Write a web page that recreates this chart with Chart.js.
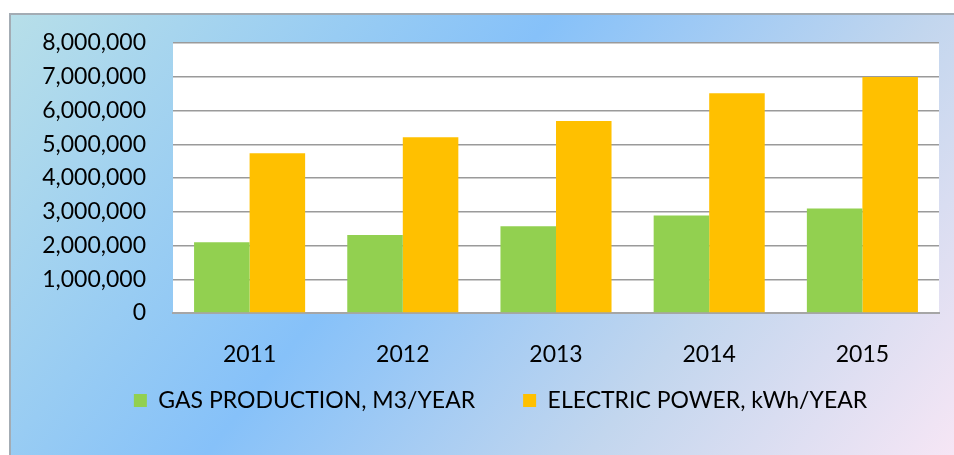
<!DOCTYPE html>
<html>
<head>
<meta charset="utf-8">
<script src="https://cdn.jsdelivr.net/npm/chart.js@4"></script>
<style>
  html, body { margin: 0; padding: 0; background: #fff; }
  #wrap { position: relative; width: 954px; height: 455px; }
</style>
</head>
<body>
<div id="wrap"><canvas id="chart" width="954" height="455"></canvas></div>
<script>
// data
const years = ['2011', '2012', '2013', '2014', '2015'];
const gasProduction = [2100000, 2310000, 2570000, 2890000, 3100000];
const electricPower = [4730000, 5210000, 5690000, 6510000, 6990000];
const yTicks = [0, 1000000, 2000000, 3000000, 4000000, 5000000, 6000000, 7000000, 8000000];

const FONT = 'Lato, "Open Sans", sans-serif';

// page background: gradient panel with a grey frame on left and top, white plot area
const backdrop = {
  id: 'backdrop',
  beforeDraw(chart) {
    const { ctx, chartArea: a } = chart;
    ctx.save();
    const g = ctx.createLinearGradient(0, 0, 809, 639);
    g.addColorStop(0, '#b9e0e8');
    g.addColorStop(0.43, '#86c1f9');
    g.addColorStop(0.72, '#c2d6ee');
    g.addColorStop(1, '#f6e6f5');
    ctx.fillStyle = g;
    ctx.fillRect(10, 13, 944, 442);
    ctx.fillStyle = '#a3acb4';
    ctx.fillRect(9, 13, 2, 442);
    ctx.fillRect(9, 13, 945, 2);
    ctx.fillStyle = '#ffffff';
    ctx.fillRect(a.left, a.top, a.right - a.left, a.bottom - a.top);
    ctx.restore();
  }
};

// legend padding is the gap between the two items, so move the box up and right afterwards
const legendNudge = {
  id: 'legendNudge',
  afterLayout(chart) {
    const lg = chart.legend;
    lg.left += 31; lg.right += 31;
    lg.top -= 33; lg.bottom -= 33;
  }
};

new Chart(document.getElementById('chart'), {
  type: 'bar',
  data: {
    labels: years,
    datasets: [
      { label: 'GAS PRODUCTION, M3/YEAR', data: gasProduction, backgroundColor: '#92d050' },
      { label: 'ELECTRIC POWER, kWh/YEAR', data: electricPower, backgroundColor: '#ffc000' }
    ]
  },
  options: {
    responsive: false,
    animation: false,
    datasets: { bar: { categoryPercentage: 0.725, barPercentage: 1 } },
    layout: { padding: { top: 43, right: 15, left: 0, bottom: 0 } },
    plugins: {
      tooltip: { enabled: false },
      legend: {
        position: 'bottom',
        labels: {
          color: '#000',
          font: { family: FONT, size: 23 },
          boxWidth: 13,
          boxHeight: 13,
          padding: 48
        }
      }
    },
    scales: {
      x: {
        afterFit(scale) { scale.height = 61; },
        grid: { display: false },
        border: { display: true, color: '#a6a6a6', width: 2 },
        ticks: { color: '#000', font: { family: FONT, size: 23 }, padding: 20 }
      },
      y: {
        min: 0,
        max: 8000000,
        afterFit(scale) { scale.width = 173; },
        afterBuildTicks(scale) { scale.ticks = yTicks.map(v => ({ value: v })); },
        grid: { color: '#9a9a9a', lineWidth: 1.5, drawTicks: false },
        border: { display: false },
        ticks: {
          autoSkip: false,
          color: '#000',
          font: { family: FONT, size: 23 },
          padding: 27,
          callback: v => v.toLocaleString('en-US')
        }
      }
    }
  },
  plugins: [backdrop, legendNudge]
});
</script>
</body>
</html>
